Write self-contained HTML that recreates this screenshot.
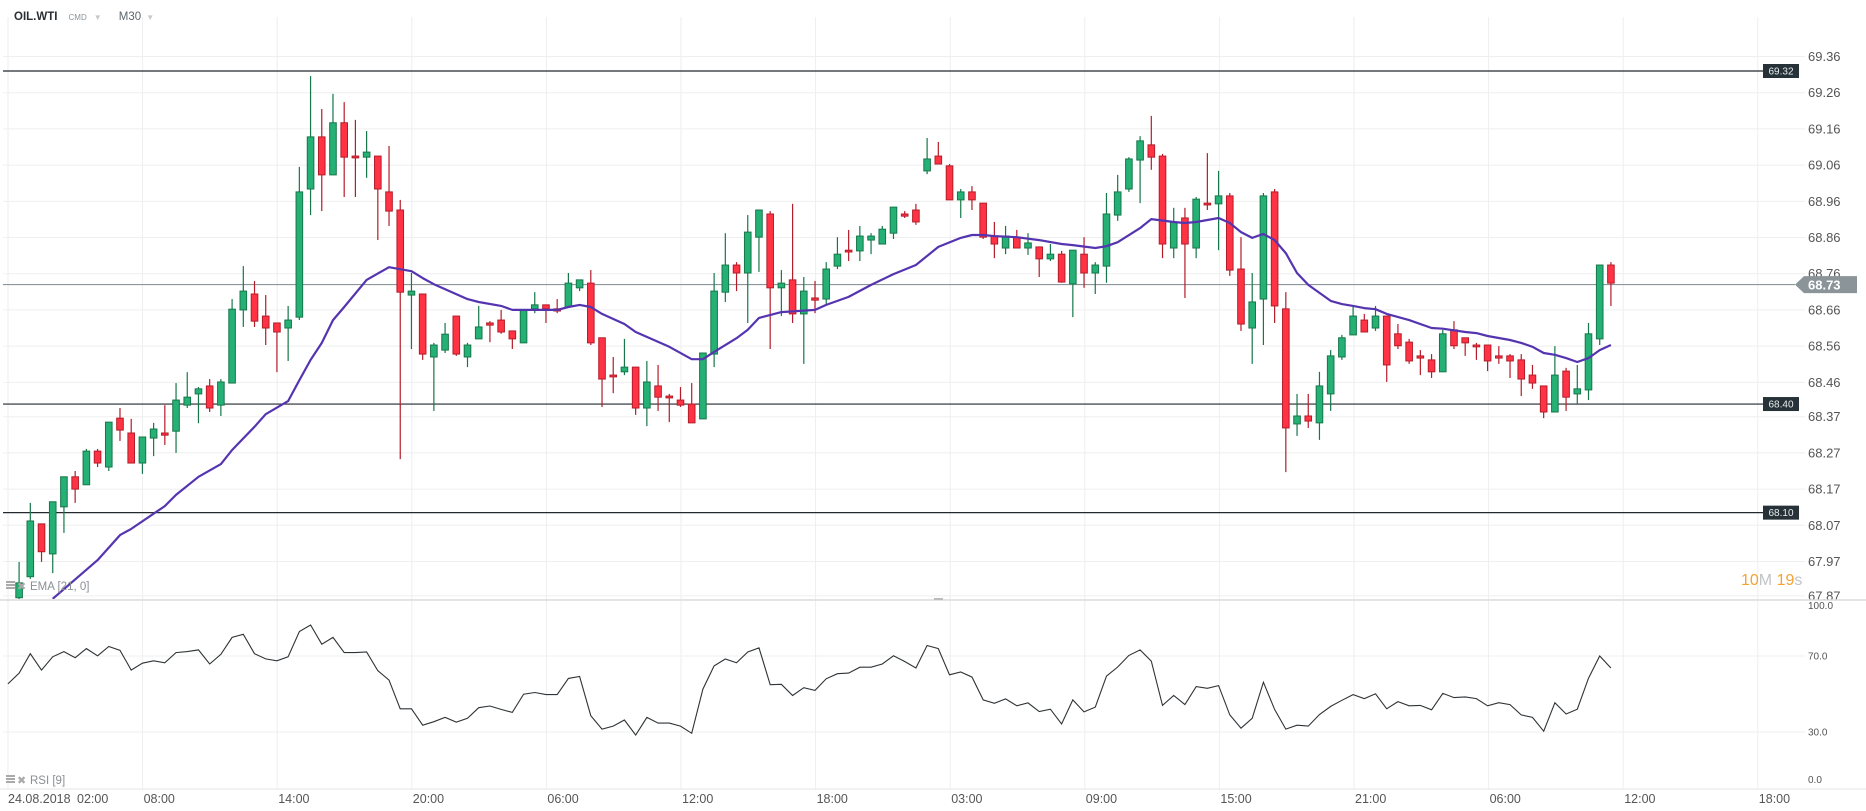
<!DOCTYPE html>
<html><head><meta charset="utf-8"><title>OIL.WTI M30</title>
<style>
html,body{margin:0;padding:0;background:#fff;}
body{width:1866px;height:811px;overflow:hidden;position:relative;font-family:"Liberation Sans",sans-serif;}
#hdr{position:absolute;left:14px;top:11px;height:16px;font-size:11px;color:#333;white-space:nowrap;}
svg{position:absolute;left:0;top:0;}
</style></head>
<body>
<div id="hdr">
 <span style="font-weight:bold;font-size:11.5px;color:#2a2f33">OIL.WTI</span>
 <span style="font-size:8px;color:#8a9399;margin-left:8px">CMD</span>
 <span style="color:#c5c9cc;font-size:8px;margin-left:4px">&#9660;</span>
 <span style="color:#5d666b;font-size:11.5px;margin-left:14px">M30</span>
 <span style="color:#c5c9cc;font-size:8px;margin-left:2px">&#9660;</span>
</div>
<svg id="chart" width="1866" height="811" xmlns="http://www.w3.org/2000/svg"></svg>
<script>
// ---- data ----
const open = [
67.865,67.923,68.069,67.986,68.116,68.199,68.177,68.270,68.226,68.361,
68.320,68.237,68.306,68.320,68.325,68.397,68.428,68.450,68.397,68.458,
68.660,68.704,68.643,68.624,68.610,68.640,68.994,69.138,69.033,69.177,
69.085,69.082,69.085,68.986,68.936,68.701,68.704,68.530,68.549,68.643,
68.530,68.580,68.624,68.632,68.602,68.569,68.663,68.674,68.663,68.668,
68.721,68.734,68.583,68.480,68.489,68.502,68.389,68.450,68.422,68.411,
68.400,68.359,68.538,68.709,68.784,68.762,68.861,68.925,68.721,68.743,
68.649,68.693,68.690,68.781,68.825,68.823,68.853,68.842,68.872,68.925,
68.936,69.044,69.085,69.058,68.964,68.986,68.955,68.864,68.831,68.861,
68.831,68.834,68.801,68.814,68.732,68.814,68.762,68.781,68.922,68.994,
69.074,69.116,69.085,68.831,68.914,68.831,68.955,68.953,68.975,68.773,
68.610,68.690,68.986,68.663,68.345,68.367,68.348,68.428,68.530,68.591,
68.632,68.610,68.643,68.594,68.571,68.533,68.522,68.489,68.605,68.583,
68.563,68.563,68.533,68.533,68.522,68.480,68.450,68.378,68.491,68.428,
68.439,68.580,68.784];
const high = [
67.964,68.127,68.069,68.130,68.199,68.215,68.276,68.276,68.350,68.389,
68.359,68.309,68.348,68.397,68.458,68.488,68.447,68.469,68.469,68.690,
68.781,68.740,68.701,68.624,68.671,69.055,69.306,69.215,69.257,69.234,
69.185,69.154,69.085,69.113,68.964,68.762,68.704,68.569,68.624,68.643,
68.569,68.671,68.629,68.660,68.602,68.660,68.709,68.674,68.690,68.762,
68.743,68.770,68.583,68.530,68.580,68.502,68.519,68.508,68.428,68.447,
68.458,68.541,68.762,68.872,68.792,68.922,68.936,68.933,68.770,68.953,
68.751,68.740,68.792,68.861,68.881,68.892,68.872,68.892,68.944,68.933,
68.953,69.135,69.124,69.063,68.994,69.002,68.955,68.903,68.892,68.881,
68.872,68.834,68.842,68.823,68.825,68.861,68.792,68.983,69.033,69.082,
69.140,69.196,69.091,68.942,68.942,68.972,69.093,69.044,68.983,68.861,
68.762,68.983,68.994,68.709,68.428,68.428,68.489,68.549,68.591,68.671,
68.649,68.671,68.643,68.621,68.580,68.549,68.538,68.605,68.629,68.583,
68.569,68.563,68.560,68.538,68.538,68.508,68.450,68.560,68.500,68.508,
68.624,68.784,68.792];
const low = [
67.859,67.917,67.964,67.933,68.044,68.127,68.177,68.226,68.215,68.298,
68.237,68.207,68.256,68.287,68.265,68.389,68.347,68.378,68.367,68.458,
68.613,68.613,68.563,68.488,68.519,68.632,68.922,68.933,69.033,68.972,
68.972,69.025,68.853,68.892,68.248,68.552,68.522,68.381,68.541,68.533,
68.502,68.580,68.571,68.594,68.552,68.569,68.651,68.624,68.651,68.668,
68.712,68.563,68.392,68.430,68.480,68.370,68.339,68.381,68.350,68.392,
68.348,68.359,68.502,68.682,68.712,68.624,68.765,68.552,68.643,68.624,
68.511,68.651,68.676,68.773,68.795,68.795,68.814,68.842,68.856,68.914,
68.895,69.035,69.063,68.964,68.914,68.936,68.856,68.803,68.814,68.831,
68.812,68.751,68.795,68.735,68.640,68.721,68.704,68.735,68.906,68.986,
68.955,69.047,68.803,68.803,68.693,68.803,68.936,68.825,68.754,68.602,
68.511,68.563,68.624,68.212,68.312,68.334,68.301,68.381,68.522,68.591,
68.599,68.602,68.461,68.552,68.511,68.480,68.472,68.489,68.552,68.533,
68.522,68.491,68.511,68.472,68.422,68.442,68.361,68.378,68.381,68.400,
68.411,68.563,68.671];
const close = [
67.906,68.077,67.992,68.130,68.199,68.165,68.270,68.237,68.350,68.328,
68.237,68.309,68.331,68.314,68.411,68.419,68.442,68.389,68.461,68.662,
68.712,68.629,68.610,68.599,68.632,68.986,69.138,69.033,69.177,69.082,
69.080,69.096,68.994,68.933,68.709,68.712,68.538,68.563,68.593,68.538,
68.563,68.613,68.618,68.599,68.580,68.660,68.674,68.663,68.657,68.734,
68.743,68.569,68.469,68.475,68.502,68.389,68.461,68.419,68.417,68.397,
68.348,68.541,68.712,68.784,68.762,68.875,68.936,68.721,68.734,68.649,
68.712,68.687,68.773,68.814,68.820,68.864,68.864,68.883,68.944,68.919,
68.903,69.077,69.063,68.964,68.986,68.964,68.861,68.842,68.864,68.831,
68.845,68.801,68.814,68.737,68.825,68.762,68.784,68.925,68.986,69.077,
69.127,69.082,68.842,68.903,68.842,68.966,68.950,68.975,68.770,68.621,
68.682,68.975,68.671,68.334,68.367,68.353,68.450,68.533,68.583,68.643,
68.599,68.643,68.508,68.561,68.519,68.527,68.489,68.594,68.561,68.569,
68.558,68.519,68.527,68.519,68.469,68.458,68.378,68.480,68.419,68.442,
68.594,68.784,68.734];
const emaIdx = [3,7,9,10,13,14,16,18,19,21,22,24,25,26,27,28,29,31,33,35,36,37,40,41,43,44,48,49,50,51,52,54,55,58,60,61,62,64,65,66,68,71,72,74,76,78,80,82,84,85,86,87,89,91,93,94,96,97,98,100,101,103,104,105,107,108,109,110,111,112,113,114,115,116,117,118,119,120,121,122,124,126,127,129,130,131,133,134,135,136,137,138,139,140,141,142];
const emaVal = [67.862,67.969,68.038,68.055,68.118,68.149,68.199,68.234,68.273,68.337,68.372,68.408,68.466,68.522,68.569,68.632,68.668,68.743,68.778,68.767,68.748,68.731,68.690,68.682,68.671,68.660,68.660,68.668,68.674,68.668,68.649,68.621,68.599,68.558,68.524,68.524,68.544,68.582,68.605,68.638,68.654,68.660,68.674,68.696,68.729,68.759,68.784,68.834,68.859,68.867,68.867,68.864,68.861,68.853,68.842,68.839,68.831,68.836,68.847,68.886,68.911,68.903,68.900,68.903,68.914,68.900,68.875,68.859,68.870,68.853,68.817,68.762,68.729,68.707,68.685,68.676,68.671,68.665,68.662,68.649,68.632,68.610,68.608,68.599,68.596,68.588,68.577,68.569,68.558,68.541,68.536,68.527,68.516,68.527,68.549,68.563];
const rsiStart = -1;
const rsi = [55.3,61.0,71.2,62.6,69.6,72.3,69.1,73.9,70.1,75.0,73.0,
62.6,66.2,67.5,66.4,71.8,72.3,73.2,65.8,70.9,79.8,
81.4,71.2,68.5,67.5,69.6,82.9,86.3,76.2,79.8,71.8,
71.8,72.1,62.3,57.3,42.2,42.2,33.6,35.4,37.7,35.2,
37.2,42.8,43.7,41.9,40.3,49.9,50.8,49.7,49.7,58.2,
59.2,38.6,31.5,33.1,36.3,28.4,37.7,34.7,34.7,33.1,
29.3,52.6,64.8,68.4,66.4,72.1,74.3,54.9,55.1,49.2,
53.3,51.9,58.0,60.7,61.0,64.1,64.1,65.8,70.1,67.1,
63.7,75.5,73.9,60.1,61.6,58.9,46.9,45.1,47.4,43.8,
45.3,40.8,42.0,34.2,46.9,40.6,43.1,59.4,64.2,70.3,
73.2,67.3,44.0,49.2,44.4,53.9,53.0,54.4,39.0,32.0,
37.2,56.2,41.9,31.5,33.6,33.1,39.2,43.5,46.7,49.7,
47.6,50.1,42.2,46.0,43.8,44.0,41.7,50.3,48.1,48.5,
47.6,43.8,45.4,44.4,39.0,37.7,30.4,45.4,39.5,42.0,
58.3,70.0,63.7];
const priceTicks = [69.36,69.26,69.16,69.06,68.96,68.86,68.76,68.66,68.56,68.46,68.365,68.265,68.165,68.065,67.965,67.87];
const priceTickLabels = ["69.36","69.26","69.16","69.06","68.96","68.86","68.76","68.66","68.56","68.46","68.37","68.27","68.17","68.07","67.97","67.87"];
const levels = [69.32,68.40,68.10];
const levelLabels = ["69.32","68.40","68.10"];
const lastPrice = 68.73;
const rsiTicks = [100,70,30,0];
const rsiTickLabels = ["100.0","70.0","30.0","0.0"];
const timeLabels = ["08:00","14:00","20:00","06:00","12:00","18:00","03:00","09:00","15:00","21:00","06:00","12:00","18:00"];

// ---- axes ----
const X = i => 19.1 + 11.21*i;
const Y = p => 71 + (69.32 - p)*362;
const RY = v => 789 - v*1.9;
const gridX = k => 8 + 134.6*k;

const svg = document.getElementById('chart');
const NS = 'http://www.w3.org/2000/svg';
function mk(tag, attrs, parent){ const e=document.createElementNS(NS,tag); for(const k in attrs) e.setAttribute(k,attrs[k]); (parent||svg).appendChild(e); return e; }

const defs = mk('defs',{});
const cp = mk('clipPath',{id:'pc'},defs); mk('rect',{x:0,y:17,width:1763,height:582},cp);
const cr = mk('clipPath',{id:'rc'},defs); mk('rect',{x:0,y:600,width:1763,height:189},cr);

// grid
const grid = mk('g',{});


for(let k=0;k<=13;k++){
  const l=mk('line',{x1:gridX(k),x2:gridX(k),y1:17,y2:789,stroke:'#eeeeee','stroke-width':1},grid);
  
  
}
priceTicks.forEach((p,i)=>{
  const l=mk('line',{x1:3,x2:1805,y1:Y(p),y2:Y(p),stroke:'#efefef','stroke-width':1},grid);
  
  
  const t=mk('text',{x:1808,y:Y(p)+4.5,'font-size':13,fill:'#555'},grid);
  t.textContent=priceTickLabels[i];
  
  
});
rsiTicks.forEach((v,i)=>{
  if(v===70||v===30){
    const l=mk('line',{x1:3,x2:1805,y1:RY(v),y2:RY(v),stroke:'#efefef','stroke-width':1},grid);
    
    
  }
  const t=mk('text',{x:1808,y:(v===100?RY(v)+10:(v===0?RY(v)-6:RY(v)+3.5)),'font-size':10,fill:'#555'},grid);
  t.textContent=rsiTickLabels[i];
  
  
});
const sep=mk('line',{x1:0,x2:1866,y1:600,y2:600,stroke:'#dcdcdc','stroke-width':1.5});


const handle=mk('rect',{x:934,y:598,width:9,height:2,fill:'#bbb'});


const xax=mk('line',{x1:0,x2:1866,y1:789,y2:789,stroke:'#e4e4e4','stroke-width':1});



// time labels
const tl=mk('g',{'font-size':12.5,fill:'#555'});


let d0=mk('text',{x:8,y:803},tl); d0.textContent='24.08.2018';


let d1=mk('text',{x:77,y:803},tl); d1.textContent='02:00';


timeLabels.forEach((s,k)=>{
  const t=mk('text',{x:gridX(k+1)+1,y:803},tl); t.textContent=s;
  
  
});

// level lines
levels.forEach((p,i)=>{
  const l=mk('line',{x1:3,x2:1763,y1:Y(p),y2:Y(p),stroke:'#23292d','stroke-width':1.2});
  
  
  const r=mk('rect',{x:1763,y:Y(p)-7,width:36,height:14,fill:'#263238'});
  
  
  const t=mk('text',{x:1781,y:Y(p)+3.5,'font-size':10,fill:'#e8ecee','text-anchor':'middle'});
  t.textContent=levelLabels[i];
  
  
});
// last price line
const lp=mk('line',{x1:3,x2:1795,y1:Y(lastPrice),y2:Y(lastPrice),stroke:'#8c979b','stroke-width':1.2});


const ly=Y(lastPrice);
const lpt=mk('polygon',{points:`1795,${ly} 1804,${ly-8.5} 1857,${ly-8.5} 1857,${ly+8.5} 1804,${ly+8.5}`,fill:'#8a9499'});


const lpl=mk('text',{x:1808,y:ly+5,'font-size':13,'font-weight':'bold',fill:'#fff'});
lpl.textContent=lastPrice.toFixed(2);



// candles
const cg=mk('g',{'clip-path':'url(#pc)'});


for(let i=0;i<open.length;i++){
  const up=close[i]>=open[i];
  const fill=up?'#25b175':'#ff3344', edge=up?'#16774a':'#b41c2a';
  const x=X(i);
  const g=mk('g',{},cg);
  
  
  mk('line',{x1:x,x2:x,y1:Y(high[i]),y2:Y(low[i]),stroke:edge,'stroke-width':1.2},g);
  const top=Y(Math.max(open[i],close[i])), bot=Y(Math.min(open[i],close[i]));
  mk('rect',{x:x-3.3,y:top,width:6.6,height:Math.max(bot-top,1.5),fill:fill,stroke:edge,'stroke-width':1},g);
}
// EMA
let ed='';
emaIdx.forEach((ix,k)=>{ ed+=(k?'L':'M')+X(ix).toFixed(1)+','+Y(emaVal[k]).toFixed(1); });
const ema=mk('path',{d:ed,fill:'none',stroke:'#5534b0','stroke-width':2.2,'clip-path':'url(#pc)','stroke-linejoin':'round'});



// RSI
let rd='';
rsi.forEach((v,k)=>{ rd+=(k?'L':'M')+X(k+rsiStart).toFixed(1)+','+RY(v).toFixed(1); });
const rl=mk('path',{d:rd,fill:'none',stroke:'#2f3336','stroke-width':1.1,'clip-path':'url(#rc)'});



// indicator labels
function indLabel(y,txt,name){
  const g=mk('g',{});
  
  
  mk('rect',{x:6,y:y-7,width:9,height:2,fill:'#aaa'},g);
  mk('rect',{x:6,y:y-4,width:9,height:2,fill:'#aaa'},g);
  mk('rect',{x:6,y:y-1,width:9,height:2,fill:'#aaa'},g);
  const x=mk('text',{x:17,y:y+2,'font-size':11,fill:'#aaa'},g); x.textContent='\u2716';
  const t=mk('text',{x:30,y:y+2,'font-size':11.5,fill:'#8a8f93'},g); t.textContent=txt;
}
indLabel(588,'EMA  [21, 0]','ema-legend');
indLabel(782,'RSI  [9]','rsi-legend');

// countdown
const cd=mk('text',{x:1741,y:585,'font-size':16});


[['10','#f5a233'],['M','#c0c4c7'],[' 19','#f5a233'],['s','#c0c4c7']].forEach(([s,c])=>{
  const ts=mk('tspan',{fill:c},cd); ts.textContent=s;
});
</script>
</body></html>
